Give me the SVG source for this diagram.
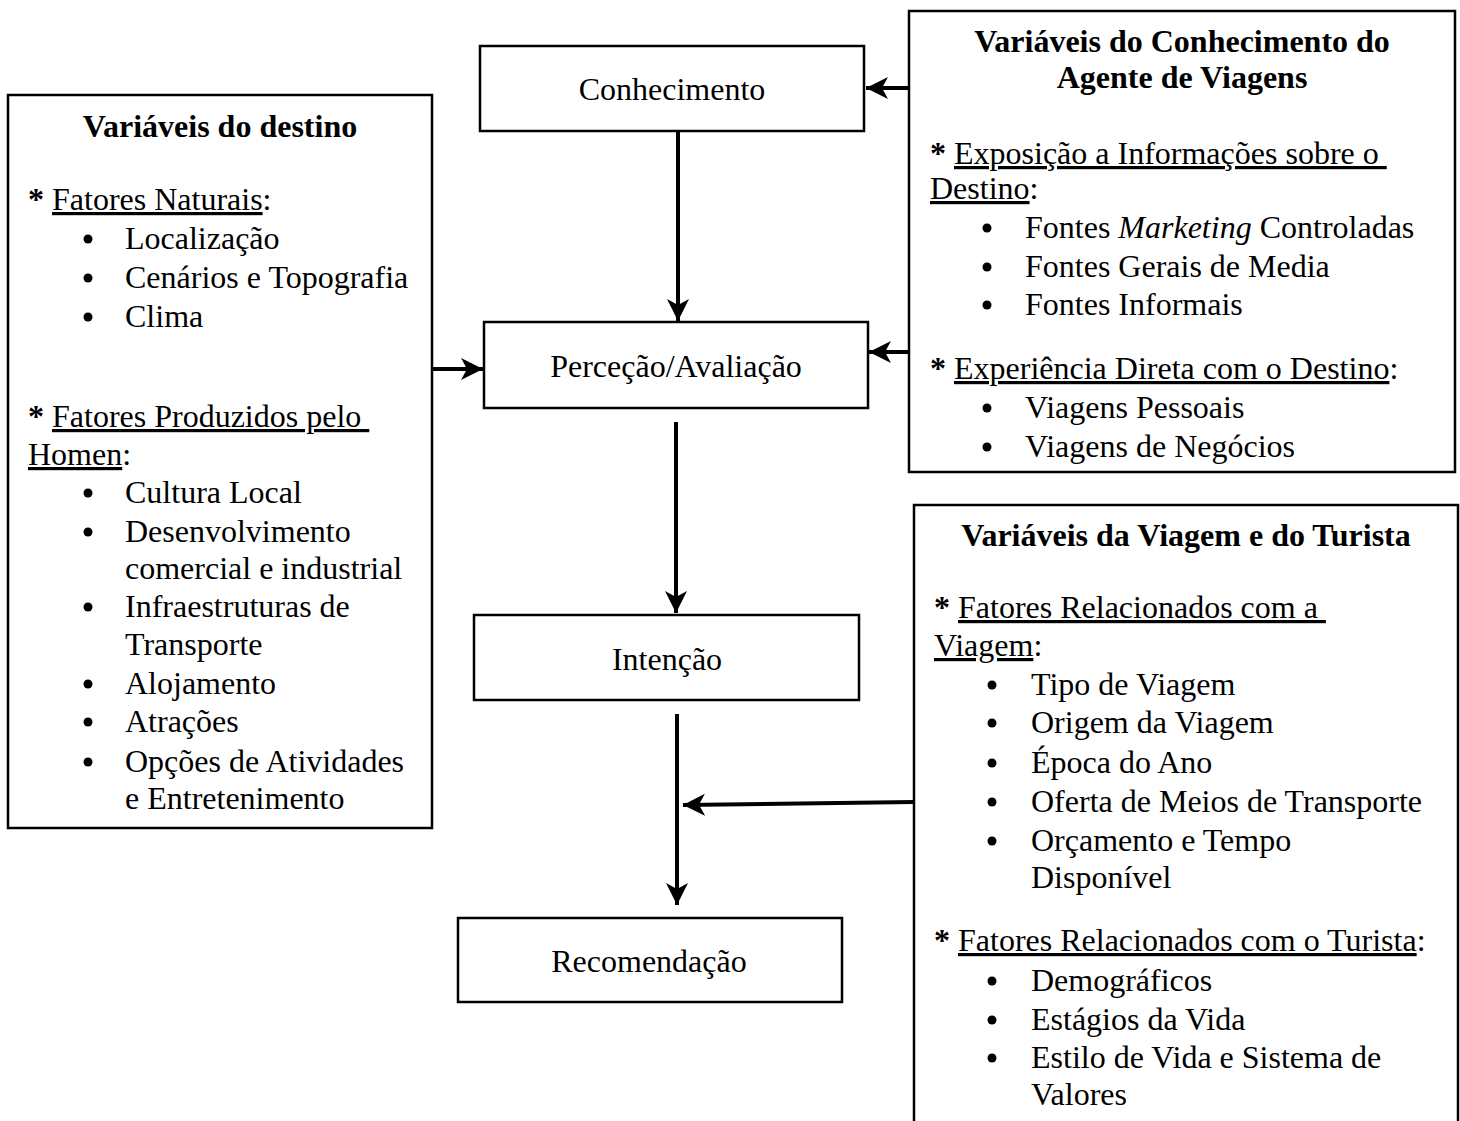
<svg xmlns="http://www.w3.org/2000/svg" width="1460" height="1121" viewBox="0 0 1460 1121">
  <style>
    text { font-family: "Liberation Serif", "Times New Roman", serif; font-size: 32px; fill: #000; }
    .b { font-weight: bold; }
    .c { text-anchor: middle; }
    .u { text-decoration: underline; }
    .box { fill: #fff; stroke: #000; stroke-width: 2.5; }
    .conn { stroke: #000; stroke-width: 4; fill: none; }
    .dot { fill: #000; }
  </style>
  <defs>
    <marker id="head" markerUnits="userSpaceOnUse" markerWidth="24" markerHeight="24" viewBox="0 0 24 24" refX="22" refY="12" orient="auto">
      <path d="M0,1 L22,12 L0,23 L6,12 Z" fill="#000"/>
    </marker>
  </defs>

  <rect width="1460" height="1121" fill="#fff"/>

  <!-- Destination variables -->
  <g id="destino">
    <rect class="box" x="8" y="95" width="424" height="733"/>
    <text class="b c" x="220" y="137">Variáveis do destino</text>
    <text x="28" y="210" xml:space="preserve"><tspan class="b">*</tspan> <tspan class="u">Fatores Naturais</tspan>:</text>
    <circle class="dot" cx="88" cy="239" r="4.5"/>
    <text x="125" y="249">Localização</text>
    <circle class="dot" cx="88" cy="278" r="4.5"/>
    <text x="125" y="288">Cenários e Topografia</text>
    <circle class="dot" cx="88" cy="317" r="4.5"/>
    <text x="125" y="327">Clima</text>
    <text x="28" y="427" xml:space="preserve"><tspan class="b">*</tspan> <tspan class="u">Fatores Produzidos pelo </tspan></text>
    <text x="28" y="465"><tspan class="u">Homen</tspan>:</text>
    <circle class="dot" cx="88" cy="493" r="4.5"/>
    <text x="125" y="503">Cultura Local</text>
    <circle class="dot" cx="88" cy="532" r="4.5"/>
    <text x="125" y="542">Desenvolvimento</text>
    <text x="125" y="579">comercial e industrial</text>
    <circle class="dot" cx="88" cy="607" r="4.5"/>
    <text x="125" y="617">Infraestruturas de</text>
    <text x="125" y="655">Transporte</text>
    <circle class="dot" cx="88" cy="684" r="4.5"/>
    <text x="125" y="694">Alojamento</text>
    <circle class="dot" cx="88" cy="722" r="4.5"/>
    <text x="125" y="732">Atrações</text>
    <circle class="dot" cx="88" cy="762" r="4.5"/>
    <text x="125" y="772">Opções de Atividades</text>
    <text x="125" y="809">e Entretenimento</text>
  </g>

  <!-- Central chain -->
  <g id="conhecimento">
    <rect class="box" x="480" y="46" width="384" height="85"/>
    <text class="c" x="672" y="100">Conhecimento</text>
  </g>
  <g id="percecao">
    <rect class="box" x="484" y="322" width="384" height="86"/>
    <text class="c" x="676" y="377">Perceção/Avaliação</text>
  </g>
  <g id="intencao">
    <rect class="box" x="474" y="615" width="385" height="85"/>
    <text class="c" x="667" y="670">Intenção</text>
  </g>
  <g id="recomendacao">
    <rect class="box" x="458" y="918" width="384" height="84"/>
    <text class="c" x="649" y="972">Recomendação</text>
  </g>

  <!-- Travel agent knowledge variables -->
  <g id="agente">
    <rect class="box" x="909" y="11" width="546" height="461"/>
    <text class="b c" x="1182" y="52">Variáveis do Conhecimento do</text>
    <text class="b c" x="1182" y="88">Agente de Viagens</text>
    <text x="930" y="164" xml:space="preserve"><tspan class="b">*</tspan> <tspan class="u">Exposição a Informações sobre o </tspan></text>
    <text x="930" y="199"><tspan class="u">Destino</tspan>:</text>
    <circle class="dot" cx="987" cy="228" r="4.5"/>
    <text x="1025" y="238">Fontes <tspan font-style="italic">Marketing</tspan> Controladas</text>
    <circle class="dot" cx="987" cy="267" r="4.5"/>
    <text x="1025" y="277">Fontes Gerais de Media</text>
    <circle class="dot" cx="987" cy="305" r="4.5"/>
    <text x="1025" y="315">Fontes Informais</text>
    <text x="930" y="379" xml:space="preserve"><tspan class="b">*</tspan> <tspan class="u">Experiência Direta com o Destino</tspan>:</text>
    <circle class="dot" cx="987" cy="408" r="4.5"/>
    <text x="1025" y="418">Viagens Pessoais</text>
    <circle class="dot" cx="987" cy="447" r="4.5"/>
    <text x="1025" y="457">Viagens de Negócios</text>
  </g>

  <!-- Trip and tourist variables -->
  <g id="viagem">
    <path class="box" d="M914,1125 L914,505 L1458,505 L1458,1125"/>
    <text class="b c" x="1186" y="546">Variáveis da Viagem e do Turista</text>
    <text x="934" y="618" xml:space="preserve"><tspan class="b">*</tspan> <tspan class="u">Fatores Relacionados com a </tspan></text>
    <text x="934" y="656"><tspan class="u">Viagem</tspan>:</text>
    <circle class="dot" cx="992" cy="685" r="4.5"/>
    <text x="1031" y="695">Tipo de Viagem</text>
    <circle class="dot" cx="992" cy="723" r="4.5"/>
    <text x="1031" y="733">Origem da Viagem</text>
    <circle class="dot" cx="992" cy="763" r="4.5"/>
    <text x="1031" y="773">Época do Ano</text>
    <circle class="dot" cx="992" cy="802" r="4.5"/>
    <text x="1031" y="812">Oferta de Meios de Transporte</text>
    <circle class="dot" cx="992" cy="841" r="4.5"/>
    <text x="1031" y="851">Orçamento e Tempo</text>
    <text x="1031" y="888">Disponível</text>
    <text x="934" y="951" xml:space="preserve"><tspan class="b">*</tspan> <tspan class="u">Fatores Relacionados com o Turista</tspan>:</text>
    <circle class="dot" cx="992" cy="981" r="4.5"/>
    <text x="1031" y="991">Demográficos</text>
    <circle class="dot" cx="992" cy="1020" r="4.5"/>
    <text x="1031" y="1030">Estágios da Vida</text>
    <circle class="dot" cx="992" cy="1058" r="4.5"/>
    <text x="1031" y="1068">Estilo de Vida e Sistema de</text>
    <text x="1031" y="1105">Valores</text>
  </g>

  <!-- Connectors -->
  <g id="connectors">
    <line class="conn" x1="909" y1="88" x2="866" y2="88" marker-end="url(#head)"/>
    <line class="conn" x1="678" y1="131" x2="678" y2="321" marker-end="url(#head)"/>
    <line class="conn" x1="432" y1="369" x2="483" y2="369" marker-end="url(#head)"/>
    <line class="conn" x1="909" y1="352" x2="869" y2="352" marker-end="url(#head)"/>
    <line class="conn" x1="676" y1="422" x2="676" y2="613" marker-end="url(#head)"/>
    <line class="conn" x1="677" y1="714" x2="677" y2="905" marker-end="url(#head)"/>
    <line class="conn" x1="914" y1="802" x2="683" y2="805" marker-end="url(#head)"/>
  </g>
</svg>
